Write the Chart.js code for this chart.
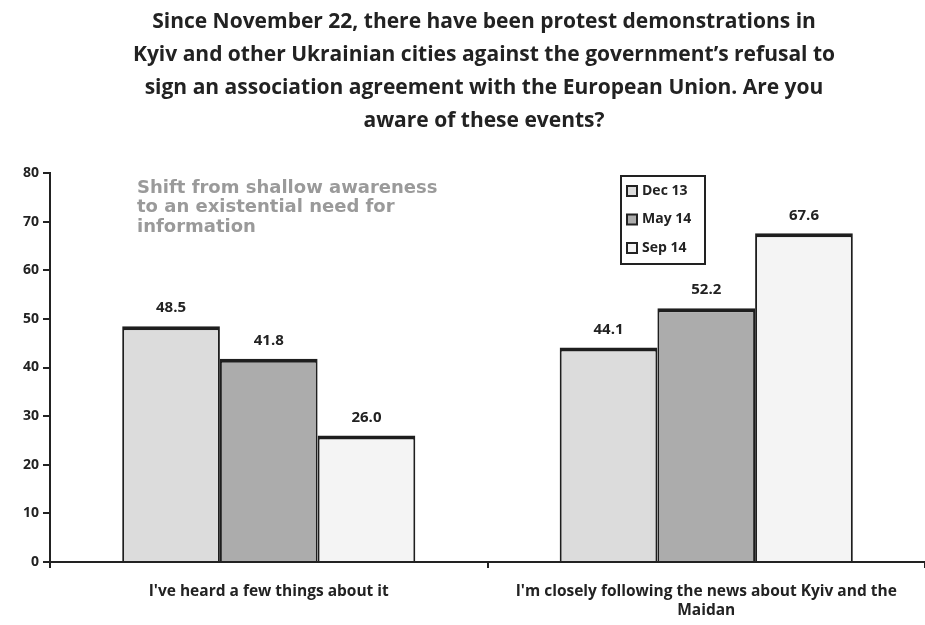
<!DOCTYPE html>
<html>
<head>
<meta charset="utf-8">
<script src="https://cdn.jsdelivr.net/npm/chart.js@4"></script>
<style>
    html, body { margin: 0; padding: 0; background: #fff; }
    #wrap { width: 925px; height: 625px; }
</style>
</head>
<body>
<div id="wrap"><canvas id="barChart" width="925" height="625"></canvas></div>
<script>
// chart data
var categories = ["I've heard a few things about it", ["I'm closely following the news about Kyiv and the", "Maidan"]];
var seriesNames = ['Dec 13', 'May 14', 'Sep 14'];
var dec13 = [48.5, 44.1];
var may14 = [41.8, 52.2];
var sep14 = [26.0, 67.6];
var yTicks = [0, 10, 20, 30, 40, 50, 60, 70, 80];

var titleLines = [
    'Since November 22, there have been protest demonstrations in',
    'Kyiv and other Ukrainian cities against the government\u2019s refusal to',
    'sign an association agreement with the European Union. Are you',
    'aware of these events?'
];
var noteLines = ['Shift from shallow awareness', 'to an existential need for', 'information'];

var fills = ['#dcdcdc', '#acacac', '#f4f4f4'];

// title, note, value labels and boxed legend
var extras = {
    id: 'extras',
    afterDatasetsDraw: function (chart) {
        var ctx = chart.ctx;
        ctx.save();
        ctx.fillStyle = '#222';
        ctx.textAlign = 'center';
        ctx.textBaseline = 'middle';
        ctx.font = 'bold 21px "Open Sans"';
        titleLines.forEach(function (t, i) {
            ctx.fillText(t, 484, 22 + i * 33);
        });

        ctx.fillStyle = '#9a9a9a';
        ctx.textAlign = 'left';
        ctx.font = 'bold 18px "DejaVu Sans"';
        noteLines.forEach(function (t, i) {
            ctx.fillText(t, 137, 188 + i * 19.5);
        });

        // value labels
        ctx.fillStyle = '#222';
        ctx.textAlign = 'center';
        ctx.font = 'bold 15px "Open Sans"';
        chart.data.datasets.forEach(function (ds, d) {
            chart.getDatasetMeta(d).data.forEach(function (bar, i) {
                ctx.fillText(ds.data[i].toFixed(1), bar.x, bar.y - 18);
            });
        });

        // legend box
        ctx.lineWidth = 2;
        ctx.strokeStyle = '#222';
        ctx.strokeRect(621, 176, 84, 88);
        ctx.textAlign = 'left';
        ctx.font = 'bold 14px "Open Sans"';
        chart.data.datasets.forEach(function (ds, d) {
            var y = 191 + d * 28.5;
            ctx.fillStyle = ds.backgroundColor;
            ctx.fillRect(627, y - 5, 10, 10);
            ctx.lineWidth = 2;
            ctx.strokeRect(627, y - 5, 10, 10);
            ctx.fillStyle = '#222';
            ctx.fillText(ds.label, 642, y);
        });
        ctx.restore();
    }
};

function makeSet(name, values, color) {
    return {
        label: name,
        data: values,
        backgroundColor: color,
        borderColor: '#1e1e1e',
        borderWidth: { top: 4, left: 2, right: 2, bottom: 0 },
        borderSkipped: 'bottom',
        categoryPercentage: 0.67,
        barPercentage: 1.0
    };
}

var ctx = document.getElementById('barChart').getContext('2d');
var barChart = new Chart(ctx, {
    type: 'bar',
    data: {
        labels: categories,
        datasets: [
            makeSet(seriesNames[0], dec13, fills[0]),
            makeSet(seriesNames[1], may14, fills[1]),
            makeSet(seriesNames[2], sep14, fills[2])
        ]
    },
    plugins: [extras],
    options: {
        responsive: false,
        animation: false,
        layout: { padding: { top: 173, right: 0, left: 0, bottom: 0 } },
        plugins: {
            legend: { display: false },
            title: { display: false },
            tooltip: { enabled: false }
        },
        scales: {
            x: {
                afterFit: function (scale) { scale.height = 63; },
                grid: {
                    offset: true,
                    drawOnChartArea: false,
                    drawTicks: true,
                    tickLength: 6,
                    color: '#222',
                    lineWidth: 2
                },
                border: { color: '#222', width: 2 },
                ticks: {
                    color: '#222',
                    font: { family: 'Open Sans', weight: 'bold', size: 15.5, lineHeight: 1.25 },
                    padding: 14,
                    maxRotation: 0
                }
            },
            y: {
                min: 0,
                max: 80,
                afterFit: function (scale) { scale.width = 50; },
                afterBuildTicks: function (scale) {
                    scale.ticks = yTicks.map(function (v) { return { value: v }; });
                },
                grid: {
                    drawOnChartArea: false,
                    drawTicks: true,
                    tickLength: 7,
                    color: '#222',
                    lineWidth: 2
                },
                border: { color: '#222', width: 2 },
                ticks: {
                    color: '#222',
                    font: { family: 'Open Sans', weight: 'bold', size: 14 },
                    padding: 4
                }
            }
        }
    }
});
</script>
</body>
</html>
